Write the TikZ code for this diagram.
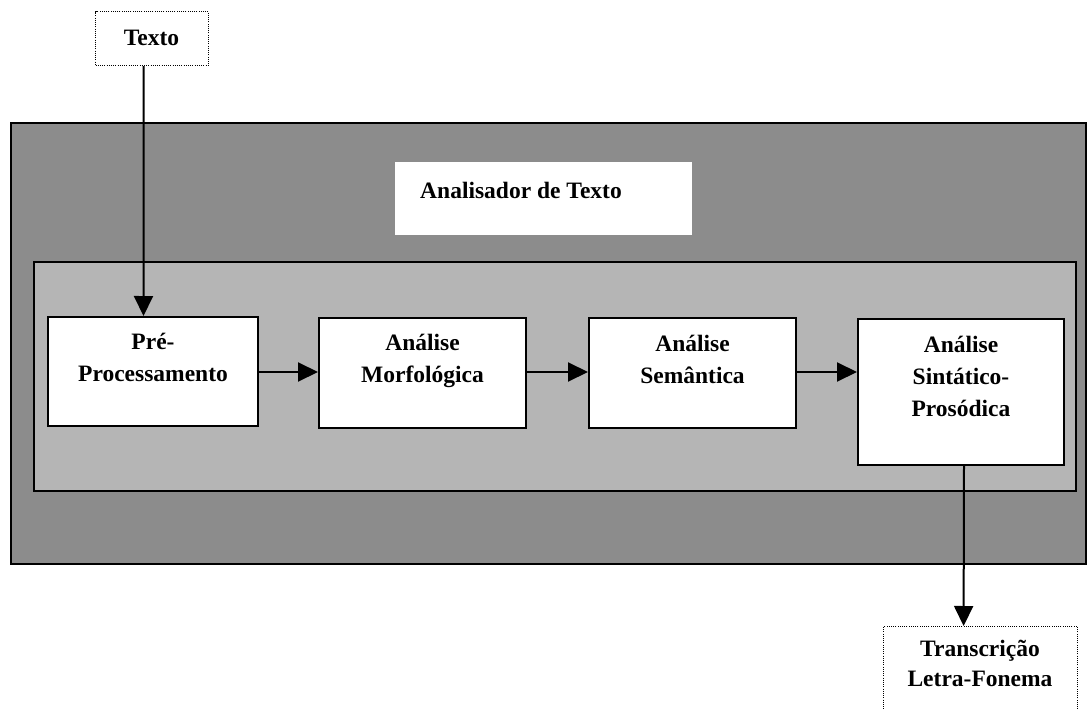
\documentclass[tikz,border=0pt]{standalone}
\usepackage{fontspec}
\setmainfont{Liberation Serif}
\usetikzlibrary{arrows.meta}
\definecolor{outergray}{gray}{0.55}
\definecolor{innergray}{gray}{0.71}
\tikzset{
  stepbox/.style={draw=black, fill=white, line width=2pt, inner sep=0pt},
  dotbox/.style={draw=black, fill=white, line width=1.2pt, dash pattern=on 1pt off 1.2pt, inner sep=0pt},
  lbl/.style={font=\bfseries\fontsize{23.5}{32}\selectfont, align=center, inner sep=0pt},
  arr/.style={line width=2pt, -{Triangle[length=20pt,width=19pt]}},
}
\begin{document}
\begin{tikzpicture}[x=1pt,y=-1pt]
\useasboundingbox (0,0) rectangle (1088,709);
% outer container
\node[draw=black, line width=2pt, fill=outergray, minimum width=1075pt, minimum height=441pt, inner sep=0pt, anchor=north west] (outer) at (10,122) {};
% label area
\node[fill=white, minimum width=297pt, minimum height=73pt, inner sep=0pt, anchor=north west] (lblarea) at (395,162) {};
\node[lbl, anchor=base] (analisador) at (521,198) {Analisador de Texto};
% inner container
\node[draw=black, line width=2pt, fill=innergray, minimum width=1042pt, minimum height=229pt, inner sep=0pt, anchor=north west] (inner) at (33,261) {};
% input / output boxes
\node[dotbox, minimum width=113pt, minimum height=54pt, anchor=north west] (texto) at (95,11) {};
\node[lbl, anchor=base] (textoT) at (151.5,46) {Texto};
\node[dotbox, minimum width=194pt, minimum height=100pt, anchor=north west] (trans) at (883,626) {};
\node[lbl, font=\bfseries\fontsize{23.5}{30}\selectfont] (transT) at (980,663) {Transcrição\\Letra-Fonema};
% process boxes
\node[stepbox, minimum width=210pt, minimum height=109pt, anchor=north west] (pre) at (47,316) {};
\node[lbl] (preT) at (pre.center |- 0,357) {Pré-\\Processamento};
\node[stepbox, minimum width=207pt, minimum height=110pt, anchor=north west] (morf) at (318,317) {};
\node[lbl] (morfT) at (morf.center |- 0,361) {Análise\\Morfológica};
\node[stepbox, minimum width=207pt, minimum height=110pt, anchor=north west] (sem) at (588,317) {};
\node[lbl] (semT) at (sem.center |- 0,359) {Análise\\Semântica};
\node[stepbox, minimum width=206pt, minimum height=146pt, anchor=north west] (sin) at (857,318) {};
\node[lbl] (sinT) at (sin.center |- 0,376) {Análise\\Sintático-\\Prosódica};
% connectors
\draw[arr] ([xshift=-8.5pt]texto.south) -- ([xshift=-9.5pt]pre.north);
\draw[arr] (pre.east |- 0,372) -- (morf.west |- 0,372);
\draw[arr] (morf.east |- 0,372) -- (sem.west |- 0,372);
\draw[arr] (sem.east |- 0,372) -- (sin.west |- 0,372);
\draw[arr] ([xshift=3pt]sin.south) -- ([xshift=-17pt]trans.north);
\end{tikzpicture}
\end{document}
